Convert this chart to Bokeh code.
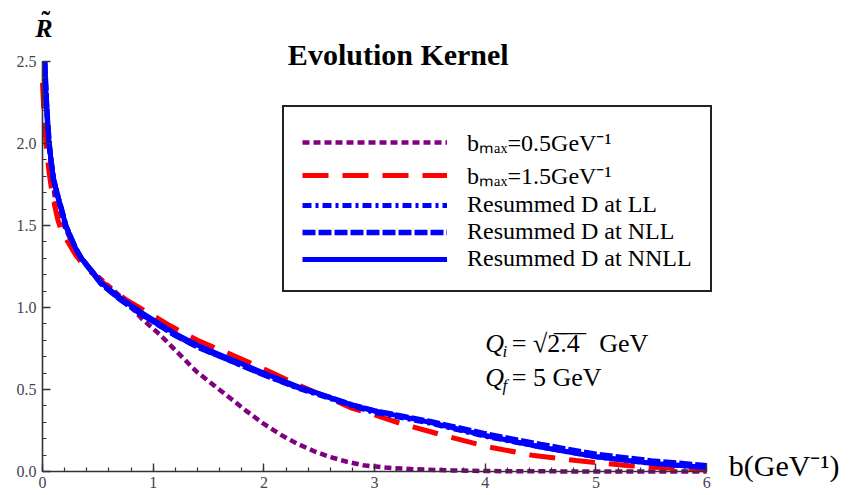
from bokeh.plotting import figure
from bokeh.models import (Legend, LegendItem, Label, SingleIntervalTicker,
                          PrintfTickFormatter, Range1d)
from bokeh.embed import file_html
from bokeh.resources import INLINE

# ---- data ----
b_nnll = [0.02, 0.032, 0.045, 0.06, 0.08, 0.10, 0.13, 0.15, 0.175, 0.21, 0.26, 0.30, 0.35, 0.45, 0.53,
          0.70, 0.88, 1.0, 1.2, 1.4, 1.7, 2.0, 2.3, 2.6, 2.8, 3.0, 3.5, 4.0, 4.5, 5.0, 5.5, 6.0]
r_nnll = [2.50, 2.30, 2.14, 2.00, 1.88, 1.78, 1.70, 1.65, 1.59, 1.50, 1.42, 1.36, 1.30, 1.22, 1.15,
          1.06, 0.975, 0.925, 0.84, 0.77, 0.685, 0.60, 0.52, 0.45, 0.405, 0.37, 0.30, 0.22, 0.15, 0.09, 0.05, 0.025]

b_nll = [0.02, 0.032, 0.045, 0.06, 0.08, 0.10, 0.13, 0.15, 0.175, 0.21, 0.26, 0.30, 0.35, 0.45, 0.53,
         0.70, 0.88, 1.0, 1.2, 1.4, 1.7, 2.0, 2.3, 2.6, 2.8, 3.0, 3.5, 4.0, 4.5, 5.0, 5.5, 6.0]
r_nll = [2.50, 2.30, 2.14, 2.00, 1.88, 1.78, 1.70, 1.65, 1.59, 1.50, 1.42, 1.36, 1.30, 1.215, 1.145,
         1.05, 0.965, 0.915, 0.83, 0.76, 0.675, 0.59, 0.515, 0.45, 0.405, 0.37, 0.305, 0.23, 0.165, 0.105, 0.065, 0.035]

b_ll = [0.02, 0.032, 0.045, 0.06, 0.08, 0.10, 0.13, 0.15, 0.175, 0.21, 0.26, 0.30, 0.35, 0.45, 0.53,
        0.70, 0.88, 1.0, 1.2, 1.4, 1.7, 2.0, 2.3, 2.6, 2.8, 3.0, 3.5, 4.0, 4.5, 5.0, 5.5, 6.0]
r_ll = [2.50, 2.30, 2.14, 2.00, 1.88, 1.78, 1.70, 1.65, 1.59, 1.50, 1.42, 1.36, 1.30, 1.215, 1.145,
        1.05, 0.965, 0.915, 0.83, 0.76, 0.675, 0.59, 0.51, 0.445, 0.40, 0.36, 0.295, 0.215, 0.15, 0.09, 0.05, 0.025]

b_max15 = [0.0, 0.006, 0.02, 0.04, 0.06, 0.08, 0.11, 0.14, 0.17, 0.22, 0.3, 0.38, 0.55, 0.75, 1.0, 1.15, 1.4,
           1.75, 2.05, 2.3, 2.6, 2.8, 3.0, 3.25, 3.6, 4.03, 4.42, 4.82, 5.3, 5.7, 6.0]
r_max15 = [2.37, 2.28, 2.10, 1.94, 1.82, 1.73, 1.62, 1.53, 1.47, 1.41, 1.32, 1.25, 1.15, 1.05, 0.95, 0.89, 0.80,
           0.70, 0.61, 0.53, 0.445, 0.385, 0.345, 0.29, 0.225, 0.15, 0.10, 0.067, 0.035, 0.02, 0.01]

b_max05 = [0.02, 0.05, 0.08, 0.12, 0.2, 0.3, 0.45, 0.6, 0.75, 0.9, 1.06, 1.2, 1.39, 1.55, 1.70, 1.85,
           2.0, 2.15, 2.3, 2.45, 2.6, 2.75, 2.9, 3.1, 3.35, 3.7, 4.0, 5.0, 6.0]
r_max05 = [2.45, 2.05, 1.85, 1.62, 1.49, 1.35, 1.22, 1.13, 1.04, 0.93, 0.835, 0.74, 0.61, 0.525, 0.445, 0.365,
           0.29, 0.225, 0.17, 0.125, 0.088, 0.06, 0.038, 0.024, 0.014, 0.007, 0.003, 0.0, 0.0]

legend_labels = ["bₘₐₓ=0.5GeV⁻¹", "bₘₐₓ=1.5GeV⁻¹", "Resummed D at LL",
                 "Resummed D at NLL", "Resummed D at NNLL"]
x_ticks_interval = 1
y_ticks_interval = 0.5

SERIF = "Liberation Serif"
PX_PER_R = 164.0

p = figure(frame_width=848, frame_height=495,
           x_range=Range1d(-0.3794, 7.281), y_range=Range1d(-0.146, 2.8715),
           min_border_left=0, min_border_right=3, min_border_top=0, min_border_bottom=0,
           output_backend="svg", toolbar_location=None)
p.grid.visible = False
p.outline_line_color = None

for ax in (p.xaxis[0], p.yaxis[0]):
    ax.fixed_location = 0
    ax.axis_line_color = "#333333"
    ax.axis_line_width = 1.6
    ax.major_tick_line_color = "#333333"
    ax.minor_tick_line_color = "#333333"
    ax.major_tick_line_width = 1.4
    ax.minor_tick_line_width = 1.2
    ax.major_tick_in = 8
    ax.major_tick_out = 0
    ax.minor_tick_in = 4
    ax.minor_tick_out = 0
    ax.major_label_text_font = SERIF
    ax.major_label_text_font_size = "16px"
    ax.major_label_text_color = "#444455"

p.xaxis.major_label_standoff = 5
p.yaxis.major_label_standoff = 6
p.xaxis.bounds = (0, 6)
p.yaxis.bounds = (0, 2.5)
p.xaxis.ticker = SingleIntervalTicker(interval=x_ticks_interval, num_minor_ticks=5)
p.yaxis.ticker = SingleIntervalTicker(interval=y_ticks_interval, num_minor_ticks=5)
p.yaxis.formatter = PrintfTickFormatter(format="%.1f")
p.xaxis.formatter = PrintfTickFormatter(format="%d")

r1 = p.line(b_max05, r_max05, line_color="#800080", line_width=4.5, line_dash="7 4")
r2 = p.line(b_max15, r_max15, line_color="#FF0000", line_width=5, line_dash="26 14")
r3 = p.line(b_ll, r_ll, line_color="#0000FF", line_width=5, line_dash="9 4 3 4")
r4 = p.line(b_nll, r_nll, line_color="#0000FF", line_width=5.5, line_dash="13 3")
r5 = p.line(b_nnll, r_nnll, line_color="#0000FF", line_width=5)

items = [LegendItem(label=lab, renderers=[r]) for lab, r in
         zip(legend_labels, [r1, r2, r3, r4, r5])]
legend = Legend(items=items, location=(282, 203), border_line_color="#222222",
                border_line_width=2, border_line_alpha=1.0, background_fill_alpha=1.0,
                label_text_font=SERIF, label_text_font_size="24px", label_text_color="black",
                glyph_width=145, glyph_height=18, label_height=18, label_standoff=20,
                spacing=0, padding=18, margin=0)
p.add_layout(legend)

def lab(x, y, text, size, style="normal", color="black", align="left"):
    # compensate the renderer's baseline offset (~1/3 of the font size)
    y_adj = y + 0.33 * size / PX_PER_R
    p.add_layout(Label(x=x, y=y_adj, text=text, text_font=SERIF, text_font_size=f"{size}px",
                       text_font_style=style, text_color=color, text_align=align,
                       text_baseline="alphabetic"))

lab(3.214, 2.48, "Evolution Kernel", 30, "bold", align="center")
lab(-0.065, 2.65, "R", 26, "bold italic")
lab(-0.01, 2.70, "˜", 26, "bold")
lab(6.2, -0.025, "b(GeV⁻¹)", 30)

lab(4.0, 0.726, "Q", 26, "italic")
lab(4.155, 0.695, "i", 17, "italic")
lab(4.24, 0.726, "= √2̅.̅4̅\u00a0\u00a0\u00a0GeV", 26)
lab(4.0, 0.524, "Q", 26, "italic")
lab(4.155, 0.49, "f", 17, "italic")
lab(4.24, 0.524, "= 5 GeV", 26)

open("out.html", "w").write(file_html(p, INLINE))
